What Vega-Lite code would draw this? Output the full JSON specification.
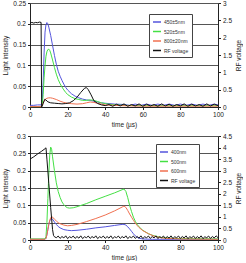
{
  "$schema": "https://vega.github.io/schema/vega-lite/v6.json",
  "padding": {"left": 2, "top": 0, "right": 0, "bottom": 0},
  "spacing": 5,
  "config": {
    "font": "Liberation Sans",
    "view": {"stroke": null},
    "axis": {"labelFontSize": 6.5, "titleFontSize": 6.5, "titleFontWeight": "normal", "labelColor": "#222", "titleColor": "#222", "domainColor": "#222", "tickColor": "#222", "tickSize": 2.5, "labelPadding": 2, "gridColor": "#555", "gridWidth": 1, "gridOpacity": 1},
    "axisX": {"labelOverlap": false, "labelFlush": false},
    "legend": {"orient": "none", "symbolType": "stroke", "symbolSize": 64, "symbolStrokeWidth": 1.5, "labelFontSize": 5, "labelColor": "#333", "rowPadding": 1.5, "padding": 3, "strokeColor": "#444", "fillColor": "#fff", "title": null, "labelOffset": 2}
  },
  "resolve": {"scale": {"color": "independent"}, "legend": {"color": "independent"}},
  "vconcat": [
    {
      "width": 188, "height": 104,
      "encoding": {
        "x": {"field": "t", "type": "quantitative", "scale": {"domain": [0, 100]}, "axis": {"title": "time (µs)", "values": [0,20,40,60,80,100], "format": "d", "grid": false, "titlePadding": 3, "labelPadding": 2}}
      },
      "layer": [
        {
          "data": {"values": [
            {"t":0,"v":0.004,"s":"450±5nm"},{"t":2,"v":0.004,"s":"450±5nm"},{"t":4,"v":0.005,"s":"450±5nm"},{"t":6,"v":0.005,"s":"450±5nm"},{"t":6.5,"v":0.01,"s":"450±5nm"},{"t":7,"v":0.06,"s":"450±5nm"},{"t":7.5,"v":0.13,"s":"450±5nm"},{"t":8,"v":0.18,"s":"450±5nm"},{"t":8.5,"v":0.198,"s":"450±5nm"},{"t":9,"v":0.203,"s":"450±5nm"},{"t":9.5,"v":0.2,"s":"450±5nm"},{"t":10,"v":0.192,"s":"450±5nm"},{"t":11,"v":0.172,"s":"450±5nm"},{"t":12,"v":0.148,"s":"450±5nm"},{"t":13,"v":0.124,"s":"450±5nm"},{"t":14,"v":0.103,"s":"450±5nm"},{"t":15,"v":0.086,"s":"450±5nm"},{"t":16,"v":0.074,"s":"450±5nm"},{"t":17,"v":0.064,"s":"450±5nm"},{"t":18,"v":0.055,"s":"450±5nm"},{"t":19,"v":0.047,"s":"450±5nm"},{"t":20,"v":0.041,"s":"450±5nm"},{"t":22,"v":0.032,"s":"450±5nm"},{"t":24,"v":0.026,"s":"450±5nm"},{"t":26,"v":0.022,"s":"450±5nm"},{"t":28,"v":0.019,"s":"450±5nm"},{"t":30,"v":0.017,"s":"450±5nm"},{"t":32,"v":0.016,"s":"450±5nm"},{"t":34,"v":0.014,"s":"450±5nm"},{"t":36,"v":0.012,"s":"450±5nm"},{"t":38,"v":0.01,"s":"450±5nm"},{"t":40,"v":0.009,"s":"450±5nm"},{"t":45,"v":0.007,"s":"450±5nm"},{"t":50,"v":0.006,"s":"450±5nm"},{"t":53,"v":0.004,"s":"450±5nm"},{"t":56,"v":0.007,"s":"450±5nm"},{"t":59,"v":0.004,"s":"450±5nm"},{"t":62,"v":0.007,"s":"450±5nm"},{"t":65,"v":0.004,"s":"450±5nm"},{"t":68,"v":0.007,"s":"450±5nm"},{"t":71,"v":0.004,"s":"450±5nm"},{"t":74,"v":0.007,"s":"450±5nm"},{"t":77,"v":0.004,"s":"450±5nm"},{"t":80,"v":0.007,"s":"450±5nm"},{"t":83,"v":0.004,"s":"450±5nm"},{"t":86,"v":0.007,"s":"450±5nm"},{"t":89,"v":0.004,"s":"450±5nm"},{"t":92,"v":0.007,"s":"450±5nm"},{"t":95,"v":0.004,"s":"450±5nm"},{"t":98,"v":0.007,"s":"450±5nm"},{"t":100,"v":0.005,"s":"450±5nm"},
            {"t":0,"v":0.001,"s":"520±5nm"},{"t":6,"v":0.001,"s":"520±5nm"},{"t":6.5,"v":0.004,"s":"520±5nm"},{"t":7,"v":0.03,"s":"520±5nm"},{"t":7.5,"v":0.07,"s":"520±5nm"},{"t":8,"v":0.1,"s":"520±5nm"},{"t":8.5,"v":0.122,"s":"520±5nm"},{"t":9,"v":0.133,"s":"520±5nm"},{"t":9.5,"v":0.138,"s":"520±5nm"},{"t":10,"v":0.139,"s":"520±5nm"},{"t":10.5,"v":0.136,"s":"520±5nm"},{"t":11,"v":0.13,"s":"520±5nm"},{"t":12,"v":0.113,"s":"520±5nm"},{"t":13,"v":0.095,"s":"520±5nm"},{"t":14,"v":0.079,"s":"520±5nm"},{"t":15,"v":0.066,"s":"520±5nm"},{"t":16,"v":0.056,"s":"520±5nm"},{"t":17,"v":0.048,"s":"520±5nm"},{"t":18,"v":0.041,"s":"520±5nm"},{"t":19,"v":0.035,"s":"520±5nm"},{"t":20,"v":0.03,"s":"520±5nm"},{"t":22,"v":0.024,"s":"520±5nm"},{"t":24,"v":0.02,"s":"520±5nm"},{"t":26,"v":0.018,"s":"520±5nm"},{"t":28,"v":0.016,"s":"520±5nm"},{"t":30,"v":0.016,"s":"520±5nm"},{"t":32,"v":0.017,"s":"520±5nm"},{"t":34,"v":0.016,"s":"520±5nm"},{"t":36,"v":0.013,"s":"520±5nm"},{"t":38,"v":0.01,"s":"520±5nm"},{"t":40,"v":0.008,"s":"520±5nm"},{"t":45,"v":0.005,"s":"520±5nm"},{"t":50,"v":0.004,"s":"520±5nm"},{"t":60,"v":0.003,"s":"520±5nm"},{"t":80,"v":0.003,"s":"520±5nm"},{"t":100,"v":0.003,"s":"520±5nm"},
            {"t":0,"v":0.001,"s":"800±20nm"},{"t":6,"v":0.001,"s":"800±20nm"},{"t":6.5,"v":0.003,"s":"800±20nm"},{"t":7,"v":0.01,"s":"800±20nm"},{"t":8,"v":0.018,"s":"800±20nm"},{"t":9,"v":0.021,"s":"800±20nm"},{"t":10,"v":0.022,"s":"800±20nm"},{"t":11,"v":0.022,"s":"800±20nm"},{"t":12,"v":0.021,"s":"800±20nm"},{"t":14,"v":0.018,"s":"800±20nm"},{"t":16,"v":0.014,"s":"800±20nm"},{"t":18,"v":0.011,"s":"800±20nm"},{"t":20,"v":0.009,"s":"800±20nm"},{"t":22,"v":0.008,"s":"800±20nm"},{"t":25,"v":0.007,"s":"800±20nm"},{"t":28,"v":0.008,"s":"800±20nm"},{"t":30,"v":0.01,"s":"800±20nm"},{"t":32,"v":0.012,"s":"800±20nm"},{"t":34,"v":0.011,"s":"800±20nm"},{"t":36,"v":0.009,"s":"800±20nm"},{"t":38,"v":0.007,"s":"800±20nm"},{"t":40,"v":0.005,"s":"800±20nm"},{"t":45,"v":0.004,"s":"800±20nm"},{"t":50,"v":0.003,"s":"800±20nm"},{"t":60,"v":0.002,"s":"800±20nm"},{"t":100,"v":0.002,"s":"800±20nm"}
          ]},
          "mark": {"type": "line", "strokeWidth": 1},
          "encoding": {
            "y": {"field": "v", "type": "quantitative", "scale": {"domain": [0, 0.25]}, "axis": {"title": "Light intensity", "format": "~g", "values": [0,0.05,0.1,0.15,0.2,0.25], "grid": true, "titlePadding": 4}},
            "color": {"field": "s", "type": "nominal", "scale": {"domain": ["450±5nm","520±5nm","800±20nm","RF voltage"], "range": ["#5555dd","#44e044","#f07050","#111111"]}, "legend": {"legendX": 119, "legendY": 11}}
          }
        },
        {
          "data": {"values": [
            {"t":0,"v":2.42,"s":"RF voltage"},{"t":1,"v":2.44,"s":"RF voltage"},{"t":2,"v":2.42,"s":"RF voltage"},{"t":3,"v":2.44,"s":"RF voltage"},{"t":4,"v":2.43,"s":"RF voltage"},{"t":5,"v":2.45,"s":"RF voltage"},{"t":5.9,"v":2.44,"s":"RF voltage"},{"t":6.2,"v":0.0,"s":"RF voltage"},{"t":7,"v":0.1,"s":"RF voltage"},{"t":7.8,"v":0.22,"s":"RF voltage"},{"t":8.5,"v":0.2,"s":"RF voltage"},{"t":9.5,"v":0.15,"s":"RF voltage"},{"t":11,"v":0.12,"s":"RF voltage"},{"t":13,"v":0.11,"s":"RF voltage"},{"t":15,"v":0.1,"s":"RF voltage"},{"t":17,"v":0.09,"s":"RF voltage"},{"t":19,"v":0.1,"s":"RF voltage"},{"t":21,"v":0.12,"s":"RF voltage"},{"t":23,"v":0.18,"s":"RF voltage"},{"t":25,"v":0.28,"s":"RF voltage"},{"t":27,"v":0.42,"s":"RF voltage"},{"t":29,"v":0.54,"s":"RF voltage"},{"t":30,"v":0.56,"s":"RF voltage"},{"t":31,"v":0.5,"s":"RF voltage"},{"t":32.5,"v":0.35,"s":"RF voltage"},{"t":34,"v":0.18,"s":"RF voltage"},{"t":36,"v":0.1,"s":"RF voltage"},{"t":38,"v":0.06,"s":"RF voltage"},{"t":40,"v":0.04,"s":"RF voltage"},{"t":42,"v":0.07,"s":"RF voltage"},{"t":44,"v":0.02,"s":"RF voltage"},{"t":46,"v":0.08,"s":"RF voltage"},{"t":48,"v":0.03,"s":"RF voltage"},{"t":50,"v":0.09,"s":"RF voltage"},{"t":52,"v":0.02,"s":"RF voltage"},{"t":54,"v":0.07,"s":"RF voltage"},{"t":56,"v":0.03,"s":"RF voltage"},{"t":58,"v":0.09,"s":"RF voltage"},{"t":60,"v":0.02,"s":"RF voltage"},{"t":62,"v":0.08,"s":"RF voltage"},{"t":64,"v":0.03,"s":"RF voltage"},{"t":66,"v":0.07,"s":"RF voltage"},{"t":68,"v":0.02,"s":"RF voltage"},{"t":70,"v":0.09,"s":"RF voltage"},{"t":72,"v":0.03,"s":"RF voltage"},{"t":74,"v":0.08,"s":"RF voltage"},{"t":76,"v":0.02,"s":"RF voltage"},{"t":78,"v":0.07,"s":"RF voltage"},{"t":80,"v":0.03,"s":"RF voltage"},{"t":82,"v":0.09,"s":"RF voltage"},{"t":84,"v":0.02,"s":"RF voltage"},{"t":86,"v":0.08,"s":"RF voltage"},{"t":88,"v":0.03,"s":"RF voltage"},{"t":90,"v":0.07,"s":"RF voltage"},{"t":92,"v":0.02,"s":"RF voltage"},{"t":94,"v":0.09,"s":"RF voltage"},{"t":96,"v":0.03,"s":"RF voltage"},{"t":98,"v":0.08,"s":"RF voltage"},{"t":100,"v":0.04,"s":"RF voltage"}
          ]},
          "mark": {"type": "line", "strokeWidth": 1},
          "encoding": {
            "y": {"field": "v", "type": "quantitative", "scale": {"domain": [0, 3]}, "axis": {"orient": "right", "title": "RF voltage", "format": "~g", "titleAngle": 270, "values": [0,0.5,1,1.5,2,2.5,3], "grid": false, "titlePadding": 10}},
            "color": {"field": "s", "type": "nominal"}
          }
        }
      ],
      "resolve": {"scale": {"y": "independent"}}
    },
    {
      "width": 188, "height": 104,
      "encoding": {
        "x": {"field": "t", "type": "quantitative", "scale": {"domain": [0, 100]}, "axis": {"title": "time (µs)", "values": [0,20,40,60,80,100], "format": "d", "grid": false, "titlePadding": 3, "labelPadding": 2}}
      },
      "layer": [
        {
          "data": {"values": [
            {"t":0,"v":0.002,"s":"400nm"},{"t":8,"v":0.002,"s":"400nm"},{"t":8.5,"v":0.005,"s":"400nm"},{"t":9,"v":0.015,"s":"400nm"},{"t":9.5,"v":0.03,"s":"400nm"},{"t":10,"v":0.045,"s":"400nm"},{"t":10.5,"v":0.055,"s":"400nm"},{"t":11,"v":0.06,"s":"400nm"},{"t":11.5,"v":0.062,"s":"400nm"},{"t":12,"v":0.06,"s":"400nm"},{"t":13,"v":0.052,"s":"400nm"},{"t":14,"v":0.045,"s":"400nm"},{"t":15,"v":0.039,"s":"400nm"},{"t":16,"v":0.035,"s":"400nm"},{"t":18,"v":0.03,"s":"400nm"},{"t":20,"v":0.028,"s":"400nm"},{"t":22,"v":0.027,"s":"400nm"},{"t":25,"v":0.028,"s":"400nm"},{"t":30,"v":0.031,"s":"400nm"},{"t":35,"v":0.035,"s":"400nm"},{"t":40,"v":0.038,"s":"400nm"},{"t":45,"v":0.042,"s":"400nm"},{"t":49,"v":0.045,"s":"400nm"},{"t":50,"v":0.045,"s":"400nm"},{"t":51,"v":0.043,"s":"400nm"},{"t":52,"v":0.038,"s":"400nm"},{"t":53,"v":0.032,"s":"400nm"},{"t":54,"v":0.025,"s":"400nm"},{"t":55,"v":0.018,"s":"400nm"},{"t":56,"v":0.012,"s":"400nm"},{"t":57,"v":0.008,"s":"400nm"},{"t":58,"v":0.005,"s":"400nm"},{"t":60,"v":0.003,"s":"400nm"},{"t":65,"v":0.002,"s":"400nm"},{"t":100,"v":0.002,"s":"400nm"},
            {"t":0,"v":0.003,"s":"500nm"},{"t":8,"v":0.003,"s":"500nm"},{"t":8.5,"v":0.01,"s":"500nm"},{"t":9,"v":0.05,"s":"500nm"},{"t":9.5,"v":0.12,"s":"500nm"},{"t":10,"v":0.19,"s":"500nm"},{"t":10.5,"v":0.245,"s":"500nm"},{"t":11,"v":0.268,"s":"500nm"},{"t":11.5,"v":0.262,"s":"500nm"},{"t":12,"v":0.24,"s":"500nm"},{"t":13,"v":0.2,"s":"500nm"},{"t":14,"v":0.165,"s":"500nm"},{"t":15,"v":0.14,"s":"500nm"},{"t":16,"v":0.123,"s":"500nm"},{"t":17,"v":0.11,"s":"500nm"},{"t":18,"v":0.102,"s":"500nm"},{"t":19,"v":0.096,"s":"500nm"},{"t":20,"v":0.093,"s":"500nm"},{"t":21,"v":0.092,"s":"500nm"},{"t":23,"v":0.093,"s":"500nm"},{"t":25,"v":0.096,"s":"500nm"},{"t":30,"v":0.105,"s":"500nm"},{"t":35,"v":0.116,"s":"500nm"},{"t":40,"v":0.126,"s":"500nm"},{"t":45,"v":0.136,"s":"500nm"},{"t":49,"v":0.145,"s":"500nm"},{"t":50,"v":0.147,"s":"500nm"},{"t":51,"v":0.14,"s":"500nm"},{"t":52,"v":0.122,"s":"500nm"},{"t":53,"v":0.1,"s":"500nm"},{"t":54,"v":0.082,"s":"500nm"},{"t":55,"v":0.066,"s":"500nm"},{"t":56,"v":0.054,"s":"500nm"},{"t":57,"v":0.045,"s":"500nm"},{"t":58,"v":0.038,"s":"500nm"},{"t":60,"v":0.028,"s":"500nm"},{"t":63,"v":0.018,"s":"500nm"},{"t":66,"v":0.012,"s":"500nm"},{"t":70,"v":0.007,"s":"500nm"},{"t":75,"v":0.005,"s":"500nm"},{"t":80,"v":0.004,"s":"500nm"},{"t":100,"v":0.003,"s":"500nm"},
            {"t":0,"v":0.002,"s":"600nm"},{"t":8,"v":0.002,"s":"600nm"},{"t":8.5,"v":0.005,"s":"600nm"},{"t":9,"v":0.015,"s":"600nm"},{"t":9.5,"v":0.03,"s":"600nm"},{"t":10,"v":0.045,"s":"600nm"},{"t":10.5,"v":0.057,"s":"600nm"},{"t":11,"v":0.064,"s":"600nm"},{"t":11.5,"v":0.067,"s":"600nm"},{"t":12,"v":0.066,"s":"600nm"},{"t":13,"v":0.06,"s":"600nm"},{"t":14,"v":0.055,"s":"600nm"},{"t":15,"v":0.05,"s":"600nm"},{"t":16,"v":0.047,"s":"600nm"},{"t":18,"v":0.043,"s":"600nm"},{"t":20,"v":0.041,"s":"600nm"},{"t":22,"v":0.042,"s":"600nm"},{"t":25,"v":0.045,"s":"600nm"},{"t":30,"v":0.053,"s":"600nm"},{"t":35,"v":0.062,"s":"600nm"},{"t":40,"v":0.072,"s":"600nm"},{"t":45,"v":0.084,"s":"600nm"},{"t":49,"v":0.095,"s":"600nm"},{"t":50,"v":0.098,"s":"600nm"},{"t":51,"v":0.094,"s":"600nm"},{"t":52,"v":0.085,"s":"600nm"},{"t":53,"v":0.075,"s":"600nm"},{"t":54,"v":0.066,"s":"600nm"},{"t":55,"v":0.057,"s":"600nm"},{"t":56,"v":0.049,"s":"600nm"},{"t":57,"v":0.042,"s":"600nm"},{"t":58,"v":0.036,"s":"600nm"},{"t":60,"v":0.027,"s":"600nm"},{"t":63,"v":0.018,"s":"600nm"},{"t":66,"v":0.011,"s":"600nm"},{"t":70,"v":0.006,"s":"600nm"},{"t":75,"v":0.004,"s":"600nm"},{"t":80,"v":0.003,"s":"600nm"},{"t":100,"v":0.002,"s":"600nm"}
          ]},
          "mark": {"type": "line", "strokeWidth": 1},
          "encoding": {
            "y": {"field": "v", "type": "quantitative", "scale": {"domain": [0, 0.3]}, "axis": {"title": "Light intensity", "format": "~g", "values": [0,0.05,0.1,0.15,0.2,0.25,0.3], "grid": true, "titlePadding": 4}},
            "color": {"field": "s", "type": "nominal", "scale": {"domain": ["400nm","500nm","600nm","RF voltage"], "range": ["#5555dd","#44e044","#f07050","#111111"]}, "legend": {"legendX": 126, "legendY": 8}}
          }
        },
        {
          "data": {"values": [
            {"t":0,"v":3.5,"s":"RF voltage"},{"t":2,"v":3.6,"s":"RF voltage"},{"t":4,"v":3.72,"s":"RF voltage"},{"t":6,"v":3.83,"s":"RF voltage"},{"t":8,"v":3.95,"s":"RF voltage"},{"t":8.5,"v":3.99,"s":"RF voltage"},{"t":9,"v":3.5,"s":"RF voltage"},{"t":10,"v":2.45,"s":"RF voltage"},{"t":11,"v":1.4,"s":"RF voltage"},{"t":12,"v":0.45,"s":"RF voltage"},{"t":12.5,"v":0.2,"s":"RF voltage"},{"t":13,"v":0.14,"s":"RF voltage"},
            {"t":14,"v":0.1,"s":"RF voltage"},{"t":15,"v":0.17,"s":"RF voltage"},{"t":16,"v":0.07,"s":"RF voltage"},{"t":17,"v":0.15,"s":"RF voltage"},{"t":18,"v":0.09,"s":"RF voltage"},{"t":19,"v":0.18,"s":"RF voltage"},{"t":20,"v":0.06,"s":"RF voltage"},{"t":21,"v":0.14,"s":"RF voltage"},{"t":22,"v":0.1,"s":"RF voltage"},{"t":23,"v":0.17,"s":"RF voltage"},{"t":24,"v":0.07,"s":"RF voltage"},{"t":25,"v":0.15,"s":"RF voltage"},{"t":26,"v":0.08,"s":"RF voltage"},{"t":27,"v":0.18,"s":"RF voltage"},{"t":28,"v":0.06,"s":"RF voltage"},{"t":29,"v":0.14,"s":"RF voltage"},{"t":30,"v":0.1,"s":"RF voltage"},{"t":31,"v":0.17,"s":"RF voltage"},{"t":32,"v":0.07,"s":"RF voltage"},{"t":33,"v":0.15,"s":"RF voltage"},{"t":34,"v":0.09,"s":"RF voltage"},{"t":35,"v":0.18,"s":"RF voltage"},{"t":36,"v":0.06,"s":"RF voltage"},{"t":37,"v":0.14,"s":"RF voltage"},{"t":38,"v":0.1,"s":"RF voltage"},{"t":39,"v":0.17,"s":"RF voltage"},{"t":40,"v":0.07,"s":"RF voltage"},{"t":41,"v":0.15,"s":"RF voltage"},{"t":42,"v":0.08,"s":"RF voltage"},{"t":43,"v":0.18,"s":"RF voltage"},{"t":44,"v":0.06,"s":"RF voltage"},{"t":45,"v":0.14,"s":"RF voltage"},{"t":46,"v":0.1,"s":"RF voltage"},{"t":47,"v":0.17,"s":"RF voltage"},{"t":48,"v":0.07,"s":"RF voltage"},{"t":49,"v":0.15,"s":"RF voltage"},{"t":50,"v":0.09,"s":"RF voltage"},{"t":51,"v":0.18,"s":"RF voltage"},{"t":52,"v":0.06,"s":"RF voltage"},{"t":53,"v":0.14,"s":"RF voltage"},{"t":54,"v":0.1,"s":"RF voltage"},{"t":55,"v":0.17,"s":"RF voltage"},{"t":56,"v":0.07,"s":"RF voltage"},{"t":57,"v":0.15,"s":"RF voltage"},{"t":58,"v":0.08,"s":"RF voltage"},{"t":59,"v":0.18,"s":"RF voltage"},{"t":60,"v":0.06,"s":"RF voltage"},{"t":61,"v":0.14,"s":"RF voltage"},{"t":62,"v":0.1,"s":"RF voltage"},{"t":63,"v":0.17,"s":"RF voltage"},{"t":64,"v":0.07,"s":"RF voltage"},{"t":65,"v":0.15,"s":"RF voltage"},{"t":66,"v":0.09,"s":"RF voltage"},{"t":67,"v":0.18,"s":"RF voltage"},{"t":68,"v":0.06,"s":"RF voltage"},{"t":69,"v":0.14,"s":"RF voltage"},{"t":70,"v":0.1,"s":"RF voltage"},{"t":71,"v":0.17,"s":"RF voltage"},{"t":72,"v":0.07,"s":"RF voltage"},{"t":73,"v":0.15,"s":"RF voltage"},{"t":74,"v":0.08,"s":"RF voltage"},{"t":75,"v":0.18,"s":"RF voltage"},{"t":76,"v":0.06,"s":"RF voltage"},{"t":77,"v":0.14,"s":"RF voltage"},{"t":78,"v":0.1,"s":"RF voltage"},{"t":79,"v":0.17,"s":"RF voltage"},{"t":80,"v":0.07,"s":"RF voltage"},{"t":81,"v":0.15,"s":"RF voltage"},{"t":82,"v":0.09,"s":"RF voltage"},{"t":83,"v":0.18,"s":"RF voltage"},{"t":84,"v":0.06,"s":"RF voltage"},{"t":85,"v":0.14,"s":"RF voltage"},{"t":86,"v":0.1,"s":"RF voltage"},{"t":87,"v":0.17,"s":"RF voltage"},{"t":88,"v":0.07,"s":"RF voltage"},{"t":89,"v":0.15,"s":"RF voltage"},{"t":90,"v":0.08,"s":"RF voltage"},{"t":91,"v":0.18,"s":"RF voltage"},{"t":92,"v":0.06,"s":"RF voltage"},{"t":93,"v":0.14,"s":"RF voltage"},{"t":94,"v":0.1,"s":"RF voltage"},{"t":95,"v":0.17,"s":"RF voltage"},{"t":96,"v":0.07,"s":"RF voltage"},{"t":97,"v":0.15,"s":"RF voltage"},{"t":98,"v":0.09,"s":"RF voltage"},{"t":99,"v":0.18,"s":"RF voltage"},{"t":100,"v":0.1,"s":"RF voltage"}
          ]},
          "mark": {"type": "line", "strokeWidth": 1},
          "encoding": {
            "y": {"field": "v", "type": "quantitative", "scale": {"domain": [0, 4.5]}, "axis": {"orient": "right", "title": "RF voltage", "format": "~g", "titleAngle": 270, "values": [0,0.5,1,1.5,2,2.5,3,3.5,4,4.5], "grid": false, "titlePadding": 10}},
            "color": {"field": "s", "type": "nominal"}
          }
        }
      ],
      "resolve": {"scale": {"y": "independent"}}
    }
  ]
}
